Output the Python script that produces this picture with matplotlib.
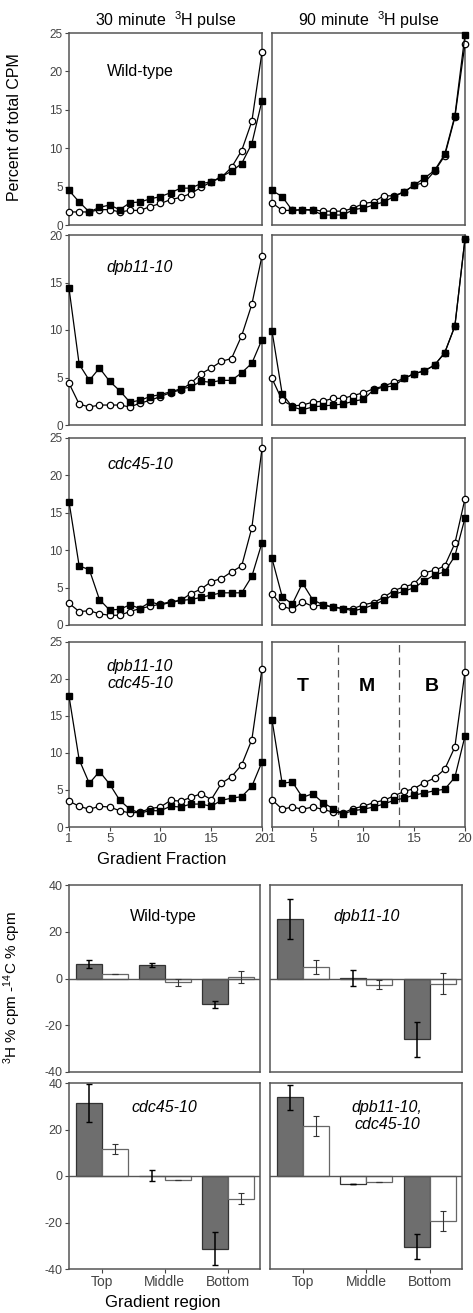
import numpy as np
import matplotlib
matplotlib.use('Agg')
import matplotlib.pyplot as plt

plt.rcParams['font.family'] = ['Liberation Sans', 'DejaVu Sans']
plt.rcParams['mathtext.fontset'] = 'custom'
plt.rcParams['mathtext.rm'] = 'Liberation Sans'
plt.rcParams['mathtext.it'] = 'Liberation Sans:italic'
plt.rcParams['axes.unicode_minus'] = False

fractions = np.arange(1, 21)

# percent of total CPM, filled squares / open circles
wt30_sq = [4.5, 3.0, 1.7, 2.3, 2.6, 2.0, 2.9, 3.0, 3.4, 3.7, 4.2, 4.8, 4.8, 5.4, 5.6, 6.3, 7.0, 8.0, 10.6, 16.2]
wt30_ci = [1.7, 1.7, 1.7, 2.0, 2.0, 1.7, 1.9, 1.9, 2.4, 2.8, 3.3, 3.6, 4.1, 4.9, 5.6, 6.2, 7.5, 9.7, 13.5, 22.5]
wt90_sq = [4.5, 3.7, 1.9, 2.0, 1.9, 1.3, 1.3, 1.3, 2.0, 2.2, 2.6, 3.0, 3.7, 4.3, 5.2, 6.1, 7.1, 9.2, 14.2, 24.8]
wt90_ci = [2.9, 1.9, 1.9, 2.0, 2.0, 1.8, 1.8, 1.8, 2.2, 2.8, 3.0, 3.8, 3.8, 4.3, 5.2, 5.5, 7.0, 9.0, 14.0, 23.6]

dpb30_sq = [14.4, 6.4, 4.7, 6.0, 4.6, 3.6, 2.4, 2.6, 3.0, 3.2, 3.5, 3.8, 4.0, 4.6, 4.5, 4.7, 4.7, 5.5, 6.5, 9.0]
dpb30_ci = [4.4, 2.2, 1.9, 2.1, 2.1, 2.1, 1.9, 2.3, 2.6, 3.0, 3.4, 3.7, 4.4, 5.4, 6.0, 6.7, 7.0, 9.4, 12.7, 17.8]
dpb90_sq = [9.9, 3.3, 1.9, 1.6, 1.9, 2.0, 2.1, 2.2, 2.5, 2.7, 3.7, 4.0, 4.1, 4.9, 5.4, 5.7, 6.3, 7.6, 10.4, 19.6]
dpb90_ci = [4.9, 2.6, 2.0, 2.1, 2.4, 2.5, 2.8, 2.8, 3.1, 3.4, 3.8, 4.1, 4.5, 4.9, 5.4, 5.7, 6.3, 7.6, 10.4, 19.6]

cdc30_sq = [16.5, 7.9, 7.4, 3.4, 2.0, 2.1, 2.7, 2.2, 3.1, 2.7, 3.0, 3.3, 3.4, 3.7, 4.0, 4.3, 4.3, 4.3, 6.5, 11.0]
cdc30_ci = [2.9, 1.8, 1.9, 1.5, 1.3, 1.3, 1.8, 2.2, 2.5, 2.8, 3.1, 3.3, 4.2, 4.8, 5.8, 6.2, 7.1, 7.9, 13.0, 23.6]
cdc90_sq = [8.9, 3.8, 2.8, 5.6, 3.4, 2.7, 2.4, 2.2, 1.9, 2.2, 2.7, 3.3, 4.1, 4.5, 5.0, 5.9, 6.7, 7.1, 9.2, 14.3]
cdc90_ci = [4.2, 2.5, 2.1, 3.1, 2.5, 2.7, 2.4, 2.2, 2.2, 2.7, 3.0, 3.7, 4.6, 5.1, 5.5, 7.0, 7.3, 7.9, 10.9, 16.9]

dc30_sq = [17.7, 9.1, 5.9, 7.5, 5.8, 3.6, 2.4, 1.9, 2.2, 2.2, 2.8, 2.7, 3.1, 3.1, 2.8, 3.6, 3.9, 4.1, 5.5, 8.8]
dc30_ci = [3.5, 2.8, 2.4, 2.8, 2.7, 2.2, 1.9, 2.0, 2.5, 2.7, 3.6, 3.5, 4.0, 4.5, 3.7, 5.9, 6.8, 8.4, 11.8, 21.4]
dc90_sq = [14.5, 5.9, 6.1, 4.0, 4.5, 3.3, 2.5, 1.8, 2.2, 2.4, 2.7, 3.1, 3.6, 3.9, 4.3, 4.6, 4.9, 5.1, 6.7, 12.3]
dc90_ci = [3.7, 2.4, 2.7, 2.4, 2.7, 2.4, 2.0, 1.9, 2.5, 2.8, 3.3, 3.6, 4.2, 4.8, 5.2, 6.0, 6.6, 7.8, 10.8, 21.0]

line_rows = [
    ('Wild-type', 'normal', 25, wt30_sq, wt30_ci, wt90_sq, wt90_ci),
    ('dpb11-10', 'italic', 20, dpb30_sq, dpb30_ci, dpb90_sq, dpb90_ci),
    ('cdc45-10', 'italic', 25, cdc30_sq, cdc30_ci, cdc90_sq, cdc90_ci),
    ('dpb11-10\ncdc45-10', 'italic', 25, dc30_sq, dc30_ci, dc90_sq, dc90_ci),
]
label_pos = [(8, 20.0), (8, 16.6), (8, 21.4), (8, 20.5)]

# 3H % cpm - 14C % cpm, by gradient region
regions = ['Top', 'Middle', 'Bottom']
bar_panels = ['Wild-type', 'dpb11-10', 'cdc45-10', 'dpb11-10,\ncdc45-10']
dark_vals = [[6.3, 5.8, -11.0], [25.6, 0.3, -25.9], [31.4, 0.2, -31.2], [33.8, -3.3, -30.4]]
dark_err = [[1.8, 1.0, 1.5], [8.5, 3.5, 7.5], [8.0, 2.3, 7.0], [5.3, 0.0, 5.5]]
white_vals = [[2.0, -1.7, 0.5], [4.9, -2.6, -2.3], [11.6, -1.9, -9.7], [21.3, -2.6, -19.3]]
white_err = [[0.0, 1.7, 2.5], [3.0, 1.9, 4.5], [2.2, 0.0, 2.5], [4.3, 0.0, 4.4]]

W, H = 473, 1313
fig = plt.figure(figsize=(W / 100, H / 100), dpi=100)
fig.patch.set_facecolor('white')

def add_ax(x0, x1, y0, y1):
    return fig.add_axes([x0 / W, 1 - y1 / H, (x1 - x0) / W, (y1 - y0) / H])

spine_col = '#555555'
tick_col = '#444444'

def style(ax):
    for s in ax.spines.values():
        s.set_color(spine_col)
        s.set_linewidth(1.1)
    ax.tick_params(colors=tick_col, labelsize=8.5, length=3, width=0.8, direction='out', pad=1.5)

row_px = [(33, 225), (235, 425), (438, 625), (642, 827)]
col_px = [(69, 262), (272, 465)]

for r, (name, fstyle, ymax, s30, c30, s90, c90) in enumerate(line_rows):
    for c, (sq, ci) in enumerate([(s30, c30), (s90, c90)]):
        ax = add_ax(col_px[c][0], col_px[c][1], row_px[r][0], row_px[r][1])
        style(ax)
        ax.plot(fractions, ci, '-o', color='black', lw=0.9, ms=4.6,
                mfc='white', mec='black', mew=0.9, clip_on=False, zorder=3)
        ax.plot(fractions, sq, '-s', color='black', lw=0.9, ms=5,
                mfc='black', mec='black', clip_on=False, zorder=4)
        ax.set_xlim(1, 20)
        ax.set_ylim(0, ymax)
        ax.set_yticks(np.arange(0, ymax + 1, 5))
        if c == 0:
            ax.set_yticklabels([str(v) for v in range(0, ymax + 1, 5)])
            ax.text(label_pos[r][0], label_pos[r][1], name, ha='center', va='center',
                    fontsize=11.5, style=fstyle, linespacing=1.15)
        else:
            ax.tick_params(axis='y', left=False, labelleft=False)
        if r == 3:
            ax.set_xticks([1, 5, 10, 15, 20])
            ax.tick_params(axis='x', labelsize=9.5)
        else:
            ax.set_xticks([])
        if r == 3 and c == 1:
            for xv in (7.5, 13.5):
                ax.axvline(xv, color='#555555', lw=0.9, ls=(0, (6, 4)))
            for xv, lab in zip((4.0, 10.3, 16.7), ('T', 'M', 'B')):
                ax.text(xv, 19, lab, ha='center', va='center', fontsize=14, fontweight='bold')

fig.text(col_px[0][0] / W + (193 / W) / 2, 1 - 20 / H, '30 minute  $^3$H pulse',
         ha='center', va='center', fontsize=11.5)
fig.text(col_px[1][0] / W + (193 / W) / 2, 1 - 20 / H, '90 minute  $^3$H pulse',
         ha='center', va='center', fontsize=11.5)
fig.text(15 / W, 1 - 127 / H, 'Percent of total CPM', rotation=90,
         ha='center', va='center', fontsize=11.5)
fig.text(162 / W, 1 - 859 / H, 'Gradient Fraction', ha='center', va='center', fontsize=12)

bar_row_px = [(885, 1072), (1083, 1269)]
bar_col_px = [(69, 260), (270, 462)]
bar_label_pos = [(0.97, 26.6), (1.0, 26.6), (1.0, 29.6), (1.33, 25.7)]
x = np.arange(len(regions))
bw = 0.41

for i, panel in enumerate(bar_panels):
    r, c = divmod(i, 2)
    ax = add_ax(bar_col_px[c][0], bar_col_px[c][1], bar_row_px[r][0], bar_row_px[r][1])
    style(ax)
    dark_face = ['#6e6e6e' if not (i == 3 and j == 1) else 'white' for j in range(3)]
    ax.bar(x - bw / 2, dark_vals[i], bw, color=dark_face, edgecolor='#333333', lw=0.9, zorder=2)
    ax.bar(x + bw / 2, white_vals[i], bw, color='white', edgecolor='#666666', lw=0.9, zorder=2)
    ax.errorbar(x - bw / 2, dark_vals[i], yerr=dark_err[i], fmt='none', ecolor='black',
                elinewidth=1.1, capsize=2.5, capthick=1.0, zorder=3)
    ax.errorbar(x + bw / 2, white_vals[i], yerr=white_err[i], fmt='none', ecolor='#333333',
                elinewidth=0.8, capsize=2.5, capthick=0.8, zorder=3)
    ax.axhline(0, color='#555555', lw=1.0, zorder=2.5)
    ax.set_xlim(-0.52, 2.51)
    ax.set_ylim(-40, 40)
    ax.set_yticks([-40, -20, 0, 20, 40])
    ax.tick_params(axis='y', labelsize=9)
    if c == 1:
        ax.tick_params(axis='y', left=False, labelleft=False)
    ax.set_xticks(x)
    if r == 1:
        ax.set_xticklabels(regions, fontsize=10)
    else:
        ax.set_xticklabels([])
        ax.tick_params(axis='x', bottom=False)
    fst = 'normal' if panel == 'Wild-type' else 'italic'
    ax.text(bar_label_pos[i][0], bar_label_pos[i][1], panel, ha='center', va='center',
            fontsize=11.5, style=fst, linespacing=1.15)

fig.text(12 / W, 1 - 988 / H, '$^3$H % cpm -$^{14}$C % cpm', rotation=90,
         ha='center', va='center', fontsize=11)
fig.text(163 / W, 1 - 1302 / H, 'Gradient region', ha='center', va='center', fontsize=12)

fig.savefig('out.png', dpi=100, facecolor='white')
